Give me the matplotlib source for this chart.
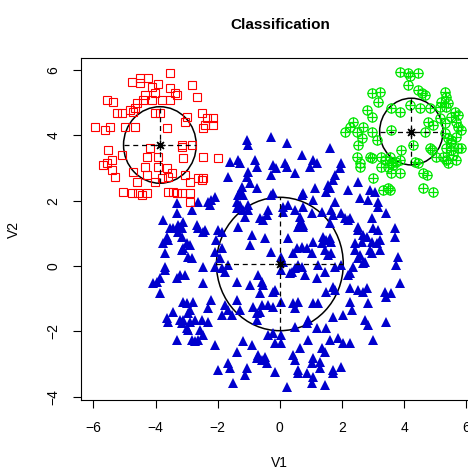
import matplotlib
matplotlib.use("Agg")
import matplotlib.pyplot as plt
from matplotlib.patches import Circle

plt.rcParams['font.family'] = ['Liberation Sans', 'DejaVu Sans']

# cluster 1 (red squares)
red_pts = [(-3.54,5.89),(-4.77,5.64),(-4.50,5.74),(-4.23,5.74),(-4.50,5.59),(-4.12,5.48),(-3.91,5.57),
           (-2.84,5.53),(-3.54,5.43),(-4.34,5.23),(-4.02,5.28),(-3.38,5.28),(-3.32,5.23),(-2.68,5.18),
           (-5.57,5.08),(-5.36,5.02),(-4.39,5.08),(-4.12,5.08),(-3.80,5.08),(-3.54,5.08),(-4.61,4.98),
           (-4.66,4.82),(-4.82,4.77),(-4.72,4.72),(-5.25,4.67),(-5.09,4.67),(-4.02,4.67),(-3.86,4.67),
           (-3.00,4.57),(-2.52,4.67),(-2.36,4.52),(-2.14,4.52),(-3.05,4.41),(-2.41,4.31),(-2.14,4.31),
           (-5.95,4.26),(-5.63,4.16),(-5.47,4.26),(-4.98,4.26),(-4.66,4.26),(-3.64,4.21),(-2.47,4.21),
           (-5.52,3.55),(-4.18,3.60),(-3.16,3.65),(-5.09,3.39),(-4.29,3.34),(-3.91,3.34),(-3.11,3.29),
           (-2.47,3.34),(-1.98,3.29),(-5.57,3.14),(-5.41,3.24),(-5.68,3.09),(-4.34,3.04),(-3.91,3.04),
           (-3.64,2.99),(-4.72,2.88),(-5.41,2.94),(-5.30,2.73),(-4.29,2.78),(-3.48,2.83),(-3.59,2.73),
           (-3.80,2.68),(-3.05,2.78),(-2.63,2.68),(-2.47,2.68),(-4.61,2.58),(-4.02,2.58),(-2.89,2.58),
           (-5.04,2.27),(-4.77,2.22),(-4.56,2.22),(-3.59,2.27),(-3.32,2.22),(-3.16,2.22),(-2.89,2.22),
           (-2.89,1.97),(-2.84,3.70),(-3.16,3.70),(-2.52,2.63),(-3.43,2.27),(-4.29,2.22),(-4.45,2.17)]

# cluster 2 (green circles)
green_pts = [(3.86,5.94),(4.12,5.89),(4.45,5.89),(4.18,5.81),(4.12,5.53),(4.45,5.38),(4.56,5.28),
             (4.66,5.23),(2.95,5.28),(3.22,5.33),(5.30,5.33),(5.36,5.18),(5.20,5.02),(5.41,4.98),
             (3.16,5.02),(4.18,4.92),(4.50,4.82),(4.82,4.82),(5.14,4.87),(5.36,4.87),(2.79,4.77),
             (2.95,4.57),(3.59,4.82),(3.86,4.72),(5.63,4.72),(5.73,4.62),(5.52,4.57),(4.77,4.41),
             (4.93,4.31),(5.14,4.52),(5.30,4.36),(5.68,4.41),(5.73,4.26),(2.36,4.41),(2.25,4.26),
             (2.68,4.26),(2.09,4.11),(2.95,4.11),(3.59,4.16),(4.66,4.11),(5.30,4.06),(5.41,3.91),
             (5.68,3.95),(5.52,3.85),(2.63,3.91),(3.11,3.85),(4.29,3.70),(4.82,3.60),(4.88,3.55),
             (3.91,3.55),(5.36,3.60),(5.52,3.55),(5.73,3.60),(5.68,3.24),(2.89,3.34),(2.47,3.34),
             (2.57,3.14),(2.57,3.04),(3.27,3.34),(3.38,3.24),(3.59,3.14),(3.48,3.04),(3.27,3.04),
             (3.86,3.24),(4.34,3.19),(4.45,3.14),(5.36,3.24),(5.41,3.14),(3.86,2.83),(4.61,2.83),
             (4.72,2.78),(3.00,2.68),(3.48,2.38),(3.32,2.32),(4.61,2.38),(4.93,2.27),(2.47,4.11),
             (2.52,3.70),(2.95,3.29),(3.54,3.34),(3.75,3.19),(3.64,3.09),(3.59,2.83),(5.04,3.34),
             (5.25,3.34),(5.57,3.39),(5.84,3.60),(5.52,3.75),(5.84,4.16),(3.54,2.32)]

# cluster 3 (blue triangles)
blue_pts = [(-1.07,3.85),(-1.02,3.70),(-0.27,3.95),(0.22,3.75),(0.70,3.39),(-1.61,3.19),(-1.34,3.24),
            (-1.29,3.14),(-0.80,3.24),(-0.75,3.04),(-0.22,3.09),(-0.11,2.99),(0.16,3.14),(0.22,3.04),
            (0.48,2.83),(-1.02,2.88),(-1.07,2.73),(-1.66,2.73),(-0.27,2.78),(-0.96,2.53),(-1.23,2.43),
            (-1.29,2.27),(-1.34,2.17),(-1.18,2.17),(-0.75,2.38),(-0.22,2.22),(-0.27,2.17),(0.75,2.22),
            (-2.09,2.12),(-2.20,2.02),(-2.31,1.97),(-2.25,1.87),(-2.63,1.97),(-1.39,1.97),(-1.29,1.87),
            (-1.39,1.76),(-1.18,1.71),(-1.02,1.87),(-1.02,1.71),(-3.32,1.92),(-2.84,1.71),(-3.75,1.41),
            (-3.43,1.15),(-3.27,1.25),(-3.16,1.15),(-3.11,1.35),(-2.68,1.25),(-2.63,1.15),(-2.41,1.10),
            (-2.47,1.05),(-3.64,0.90),(-3.59,0.80),(-3.16,0.90),(-1.98,1.10),(-1.87,1.05),(-2.04,0.80),
            (-1.13,1.51),(-1.34,1.20),(-0.38,1.71),(-0.43,1.56),(-0.64,1.46),(-0.54,1.41),(0.11,1.81),
            (0.48,1.71),(0.64,1.51),(0.75,1.25),(-0.91,0.95),(-0.48,0.85),(-0.96,0.64),(-0.27,0.44),
            (0.54,0.54),(0.70,0.59),(0.86,0.54),(-3.11,0.54),(-2.89,0.64),(-2.84,0.24),(-3.70,0.39),
            (-1.87,0.54),(-2.09,0.44),(-1.93,0.24),(-1.66,0.03),(-3.70,-0.02),(-2.47,-0.02),
            (1.61,3.60),(1.07,3.24),(1.18,3.14),(0.96,3.04),(1.98,3.14),(1.93,2.99),(1.77,2.78),
            (1.71,2.63),(2.52,2.58),(1.13,2.38),(1.55,2.48),(1.61,2.38),(1.50,2.27),(2.20,2.32),
            (2.89,2.32),(3.05,2.27),(2.57,2.07),(2.84,2.02),(3.16,1.97),(3.16,1.81),(3.43,1.61),
            (0.70,2.17),(1.07,2.02),(0.75,1.81),(1.77,1.97),(0.27,1.87),(0.11,1.66),(1.34,1.66),
            (1.02,1.61),(1.66,1.71),(1.71,1.56),(1.98,1.61),(2.09,1.46),(2.25,1.46),(2.20,1.41),
            (2.95,1.46),(0.64,1.31),(0.59,1.20),(0.75,1.20),(1.61,1.31),(2.52,1.20),(2.52,1.10),
            (3.00,1.15),(3.16,1.10),(3.70,1.15),(0.27,0.85),(1.39,0.90),(1.61,0.85),(1.50,0.80),
            (1.66,0.74),(1.34,0.69),(1.07,0.74),(2.68,0.95),(2.79,0.90),(2.95,0.74),(3.22,0.80),
            (3.11,0.69),(3.70,0.90),(0.43,0.39),(1.02,0.39),(1.45,0.49),(1.66,0.39),(1.55,0.34),
            (2.41,0.49),(2.57,0.34),(2.52,0.24),(2.89,0.49),(2.95,0.39),(3.22,0.49),(3.80,0.28),
            (0.05,0.28),(0.11,0.13),(0.59,0.03),(0.70,-0.02),(1.23,0.03),(1.77,-0.02),(1.98,0.03),
            (2.68,0.08),(3.75,0.03),(3.86,-0.53),(2.41,0.69),(2.63,0.74),(2.36,-0.02),(2.20,-0.28),
            (2.25,-0.68),(2.52,-0.73),(2.79,-0.68),(2.68,-0.79),(3.38,-0.79),(3.59,-0.83),(3.43,-0.94),
            (0.38,-0.17),(0.80,-0.28),(1.18,-0.38),(1.45,-0.17),(2.25,-0.22),(2.73,0.13),(1.50,-0.79),
            (1.71,-0.63),(1.77,-0.73),(0.05,-1.09),(0.43,-1.14),(0.59,-1.09),(0.48,-1.29),(1.07,-1.14),
            (1.23,-1.14),(2.25,-1.09),(2.84,-1.14),(2.31,-1.35),(1.71,-1.55),(2.04,-1.50),(2.73,-1.65),
            (2.84,-1.80),(3.43,-1.70),(0.91,-1.65),(0.86,-1.75),(0.48,-1.86),(0.05,-2.11),(0.05,-2.36),
            (1.18,-1.91),(1.50,-1.91),(0.91,-2.26),(1.61,-2.26),(1.87,-2.21),(2.04,-2.36),(2.25,-2.36),
            (3.00,-2.26),(0.64,-2.52),(1.34,-2.52),(1.45,-2.62),(0.43,-2.72),(0.48,-2.87),(1.07,-2.82),
            (1.02,-2.98),(1.29,-2.93),(1.29,-3.13),(1.98,-3.08),(1.71,-3.18),(1.71,-3.28),(0.59,-3.28),
            (1.07,-3.39),(1.02,-3.59),(1.45,-3.64),(0.22,-3.69),
            (-3.70,-0.12),(-3.86,-0.38),(-3.96,-0.48),(-3.86,-0.83),(-3.22,-0.28),(-3.05,-0.28),
            (-3.32,-0.38),(-2.47,-0.53),(-2.09,-0.02),(-1.87,-0.07),(-1.77,-0.17),(-1.39,-0.48),
            (-0.96,-0.58),(-0.70,-0.28),(-0.59,-0.48),(-0.54,-0.58),(-0.64,-0.83),(-0.16,-0.73),
            (-0.22,-0.79),(0.05,-0.12),(0.32,-0.22),(0.48,-0.07),(-3.11,-1.09),(-3.00,-1.14),
            (-2.79,-1.09),(-2.89,-1.35),(-2.95,-1.45),(-2.20,-1.04),(-2.31,-1.29),(-3.43,-1.40),
            (-3.64,-1.60),(-3.59,-1.70),(-3.22,-1.65),(-3.11,-1.65),(-3.16,-1.75),(-2.89,-1.70),
            (-2.73,-1.65),(-2.52,-1.65),(-2.31,-1.70),(-2.95,-1.96),(-2.57,-1.96),(-2.47,-2.11),
            (-3.32,-2.26),(-2.84,-2.26),(-2.73,-2.31),(-2.63,-2.26),(-2.09,-2.42),(-1.77,-1.19),
            (-1.66,-1.35),(-1.55,-1.50),(-1.87,-1.50),(-1.39,-1.04),(-1.29,-1.35),(-0.86,-1.24),
            (-0.59,-1.19),(-0.64,-1.40),(-0.75,-1.45),(-0.38,-1.19),(-0.22,-1.24),(-0.75,-1.65),
            (-0.38,-2.11),(-0.22,-2.06),(-0.16,-2.36),(-1.18,-2.31),(-1.39,-2.62),(-0.91,-2.42),
            (-0.70,-2.72),(-0.75,-2.82),(-0.59,-2.87),(-0.48,-2.77),(-0.43,-2.98),(-1.98,-3.18),
            (-1.66,-2.98),(-1.61,-3.13),(-1.07,-3.13),(-1.13,-3.33),(-1.50,-3.59),(-0.16,-3.23),
            (0.59,-3.18),(0.86,-3.28),(-3.32,1.61),(-3.54,1.15),(-3.22,1.20),(-3.27,1.05),
            (-3.75,0.69),(-3.00,0.69),(-3.16,0.49),(-2.95,0.28),(-4.07,-0.53),(-3.00,-1.91)]

# cluster centres and radii
centers_x = [-3.86, 4.23, 0.00]
centers_y = [3.70, 4.11, 0.06]
radii = [1.17, 1.02, 2.04]

fig = plt.figure(figsize=(4.68, 4.72), dpi=100)
ax = fig.add_axes([0.173, 0.1525, 0.850, 0.7246])

rx, ry = zip(*red_pts)
gx, gy = zip(*green_pts)
bx, by = zip(*blue_pts)

ax.plot(bx, by, '^', color='#0000CD', ms=6.5, mew=0, linestyle='none')
ax.plot(rx, ry, 's', mfc='none', mec='#FF0000', ms=5.6, mew=0.8, linestyle='none')
ax.plot(gx, gy, 'o', mfc='none', mec='#00E600', ms=6.6, mew=0.9, linestyle='none')
ax.plot(gx, gy, '+', color='#00E600', ms=6.6, mew=0.9, linestyle='none')

for cx, cy, r in zip(centers_x, centers_y, radii):
    ax.add_patch(Circle((cx, cy), r, fill=False, ec='black', lw=1.1))
    ax.plot([cx - r, cx + r], [cy, cy], color='black', lw=0.9, ls=(0, (4, 3)))
    ax.plot([cx, cx], [cy - r, cy + r], color='black', lw=0.9, ls=(0, (4, 3)))
    ax.plot(cx, cy, marker=(8, 2, 0), color='black', ms=7, mew=0.9)

ax.set_xlim(-6.4, 6.4)
ax.set_ylim(-4.1, 6.36)
ax.set_xticks([-6, -4, -2, 0, 2, 4, 6])
ax.set_yticks([-4, -2, 0, 2, 4, 6])
ax.tick_params(direction='out', length=6, width=0.8, labelsize=10, pad=9)
for lab in ax.get_yticklabels():
    lab.set_rotation(90)
    lab.set_va('center')
for sp in ax.spines.values():
    sp.set_linewidth(0.8)

ax.set_title('Classification', fontsize=11, fontweight='bold', pad=21)
ax.set_xlabel('V1', fontsize=10, labelpad=15)
ax.set_ylabel('V2', fontsize=10, labelpad=18)

fig.savefig('out.png', dpi=100)
